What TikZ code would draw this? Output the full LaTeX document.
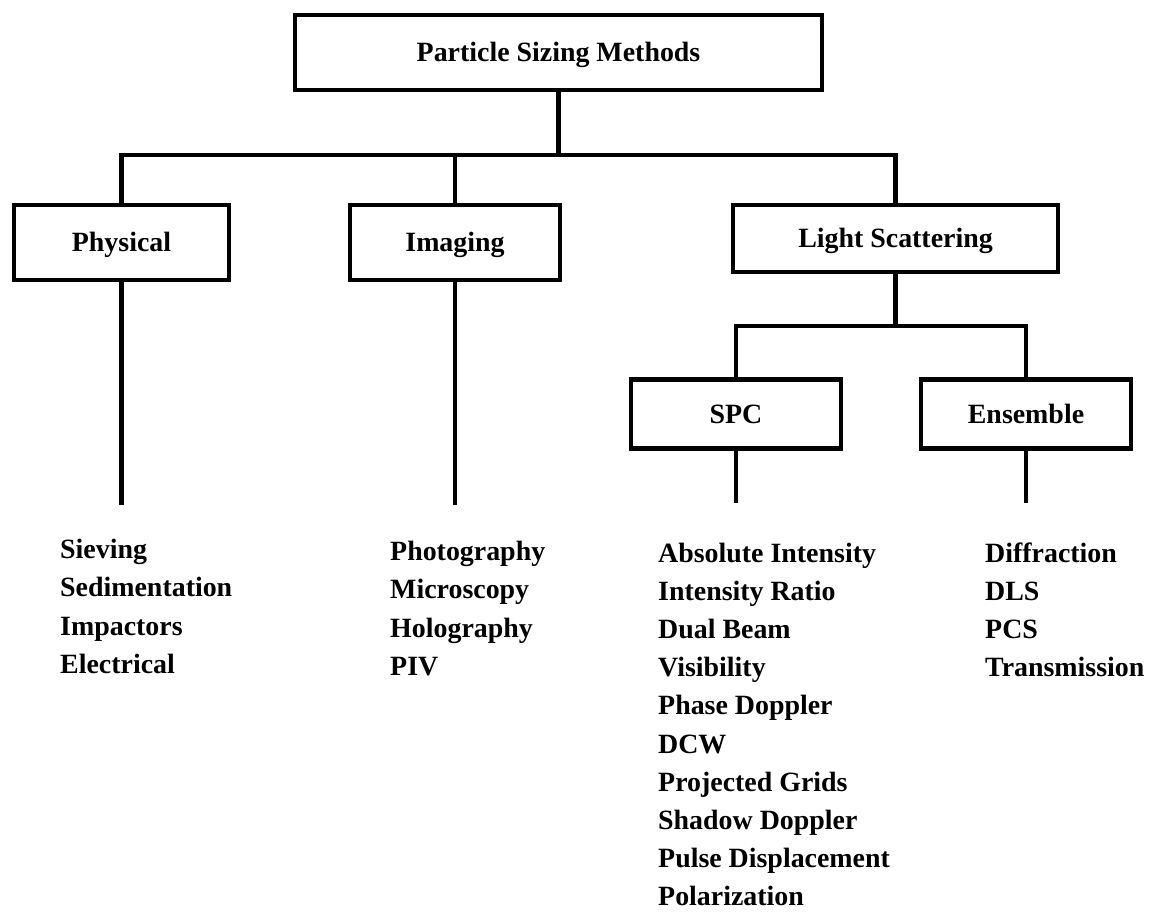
\documentclass[tikz,border=0pt]{standalone}
\usepackage{fontspec}
\setmainfont{Liberation Serif}
\begin{document}
\begin{tikzpicture}[x=1pt,y=-1pt,
  lbl/.style={font=\bfseries\fontsize{27.9}{33}\selectfont},
  box/.style={lbl, draw, line width=4.5pt, inner sep=0pt, text height=18.5pt, text depth=0pt},
  item/.style={lbl, anchor=base west, inner sep=0pt},
  conn/.style={line width=4.5pt}]
\useasboundingbox (0,0) rectangle (1150,912);
% boxes
\node[box, minimum width=527pt, minimum height=75pt] (top) at (558.5,52.5) {Particle Sizing Methods};
\node[box, minimum width=215pt, minimum height=75pt] (phys) at (121.5,242.5) {Physical};
\node[box, minimum width=210pt, minimum height=75pt] (img) at (455,242.5) {Imaging};
\node[box, minimum width=325pt, minimum height=67pt] (ls) at (895.5,238.5) {Light Scattering};
\node[box, minimum width=210pt, minimum height=69pt] (spc) at (736,414) {SPC};
\node[box, minimum width=210pt, minimum height=69pt] (ens) at (1026,414) {Ensemble};
% bus coordinates
\coordinate (bus1) at (0,155);
\coordinate (bus2) at (0,326);
\coordinate (physend) at (121.5,505);
\coordinate (imgend) at (455,505);
\coordinate (spcend) at (736,503);
\coordinate (ensend) at (1026,503);
% connectors
\draw[conn] (top.south) -- (top.south |- bus1);
\draw[conn] (phys.north) |- (ls.north |- bus1) -- (ls.north);
\draw[conn] (img.north) -- (img.north |- bus1);
\draw[conn] (ls.south) -- (ls.south |- bus2);
\draw[conn] (spc.north) |- (ens.north |- bus2) -- (ens.north);
\draw[conn] (phys.south) -- (physend);
\draw[conn] (img.south) -- (imgend);
\draw[conn] (spc.south) -- (spcend);
\draw[conn] (ens.south) -- (ensend);
% lists
\foreach \t [count=\i] in {Sieving, Sedimentation, Impactors, Electrical}
  \node[item] (phys\i) at (60, 558+38.5*\i-38.5) {\t};
\foreach \t [count=\i] in {Photography, Microscopy, Holography, PIV}
  \node[item] (img\i) at (390, 560+38.5*\i-38.5) {\t};
\foreach \t [count=\i] in {Absolute Intensity, Intensity Ratio, Dual Beam, Visibility, Phase Doppler, DCW, Projected Grids, Shadow Doppler, Pulse Displacement, Polarization}
  \node[item] (spc\i) at (658, 562+38.2*\i-38.2) {\t};
\foreach \t [count=\i] in {Diffraction, DLS, PCS, Transmission}
  \node[item] (ens\i) at (985, 562+38.2*\i-38.2) {\t};
\end{tikzpicture}
\end{document}
